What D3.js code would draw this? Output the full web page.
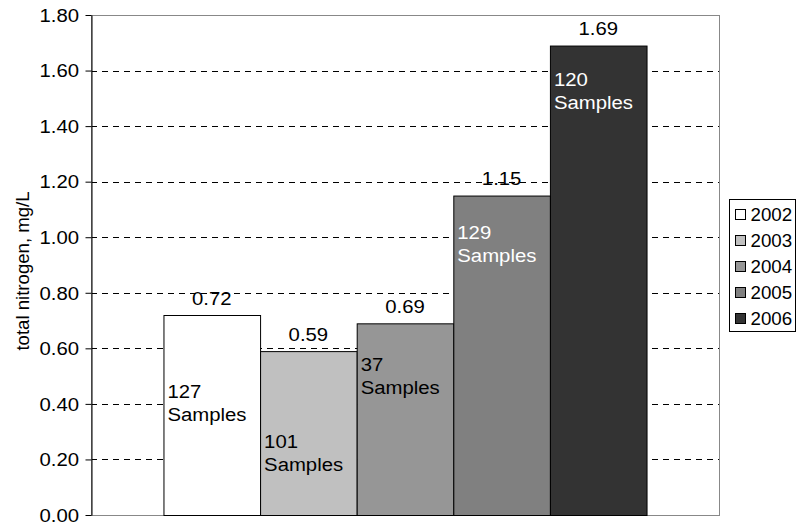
<!DOCTYPE html>
<html>
<head>
<meta charset="utf-8">
<script src="https://cdn.jsdelivr.net/npm/d3@7"></script>
<style>
  html, body { margin: 0; padding: 0; background: #fff; }
  svg { display: block; font-family: "Liberation Sans", Arial, sans-serif; }
</style>
</head>
<body>
<svg id="chart" width="796" height="525"></svg>
<script>
// ---- data ----
const years = ["2002", "2003", "2004", "2005", "2006"];
const values = [0.72, 0.59, 0.69, 1.15, 1.69];
const sampleCounts = [127, 101, 37, 129, 120];
const yTicks = [0, 0.2, 0.4, 0.6, 0.8, 1.0, 1.2, 1.4, 1.6, 1.8];
const yTitle = "total nitrogen, mg/L";

// ---- styles / layout ----
const colors = ["#ffffff", "#c0c0c0", "#969696", "#808080", "#333333"];
const labelColors = ["#000", "#000", "#000", "#fff", "#fff"];
// vertical level (in axis units) where each sample label's first line sits
const sampleLabelLevel = [0.443, 0.264, 0.54, 1.015, 1.566];
const FS = 18;
const SX = 1.13; // horizontal stretch of the text glyphs
const plot = { left: 91, right: 719, top: 15, bottom: 515 };

const svg = d3.select("#chart");

// place a text with horizontal stretch around its anchor point
function place(sel, fx, fy, sx = SX) {
  sel.attr("transform", (d, i) => `translate(${fx(d, i)},${fy(d, i)}) scale(${sx},1)`)
     .attr("x", 0).attr("y", 0);
}

const y = d3.scaleLinear().domain([0, 1.8]).range([plot.bottom, plot.top]);
const gap = 1.5; // gap width relative to bar
const barW = (plot.right - plot.left) / (years.length + gap);
const groupLeft = plot.left + gap * barW / 2;
const x = d3.scaleBand().domain(years)
  .range([groupLeft, groupLeft + barW * years.length]).padding(0);

// gridlines
svg.append("g").selectAll("line")
  .data(yTicks.filter(t => t > 0 && t < 1.8))
  .join("line")
  .attr("x1", plot.left).attr("x2", plot.right)
  .attr("y1", d => Math.round(y(d)) + 0.5).attr("y2", d => Math.round(y(d)) + 0.5)
  .attr("stroke", "#000").attr("stroke-width", 1)
  .attr("stroke-dasharray", "6,5");

// plot border (grey)
svg.append("rect")
  .attr("x", plot.left + 0.5).attr("y", plot.top + 0.5)
  .attr("width", plot.right - plot.left).attr("height", plot.bottom - plot.top)
  .attr("fill", "none").attr("stroke", "#888").attr("stroke-width", 1);

// bars
const data = years.map((yr, i) => ({ yr, v: values[i], n: sampleCounts[i], i }));
svg.append("g").selectAll("rect")
  .data(data).join("rect")
  .attr("x", d => x(d.yr) + 0.5)
  .attr("y", d => y(d.v) + 0.5)
  .attr("width", x.bandwidth())
  .attr("height", d => y(0) - y(d.v))
  .attr("fill", d => colors[d.i])
  .attr("stroke", "#000").attr("stroke-width", 1);

// y axis
const yAxis = d3.axisLeft(y).tickValues(yTicks).tickFormat(d3.format(".2f"))
  .tickSize(6).tickSizeOuter(0).tickPadding(6);
const ga = svg.append("g").attr("transform", `translate(${plot.left + 0.5},0)`).call(yAxis);
ga.select(".domain").attr("stroke", "#000");
ga.selectAll(".tick line").attr("stroke", "#000");
ga.selectAll(".tick text").attr("font-size", FS).attr("fill", "#000")
  .attr("font-family", "Liberation Sans, Arial, sans-serif")
  .attr("dy", null)
  .attr("transform", `translate(-12.5,6.3) scale(${SX},1)`).attr("x", 0);

// y title
svg.append("text")
  .attr("transform", `translate(28.5,271) rotate(-90)`)
  .attr("text-anchor", "middle")
  .attr("font-size", 18.6).attr("fill", "#000")
  .text(yTitle);

// value labels
svg.append("g").selectAll("text")
  .data(data).join("text")
  .call(place, d => x(d.yr) + x.bandwidth() / 2, d => y(d.v) - 10.5)
  .attr("text-anchor", "middle")
  .attr("font-size", FS).attr("fill", "#000")
  .text(d => d3.format(".2f")(d.v));

// sample labels
const sl = svg.append("g").selectAll("text")
  .data(data).join("text")
  .call(place, d => x(d.yr) + 4, d => y(sampleLabelLevel[d.i]))
  .attr("font-size", FS).attr("fill", d => labelColors[d.i]);
sl.append("tspan").attr("x", 0).attr("dy", "0.35em").text(d => d.n);
sl.append("tspan").attr("x", 0).attr("dy", 23).text("Samples");

// legend
const lg = svg.append("g");
lg.append("rect").attr("x", 729.5).attr("y", 199.5).attr("width", 66).attr("height", 132)
  .attr("fill", "#fff").attr("stroke", "#000");
const rows = lg.selectAll("g").data(data).join("g")
  .attr("transform", d => `translate(0,${215 + d.i * 26})`);
rows.append("rect").attr("x", 735.5).attr("y", -5.5).attr("width", 10).attr("height", 10)
  .attr("fill", d => colors[d.i]).attr("stroke", "#000");
rows.append("text")
  .call(place, () => 750.5, () => 6.3, 1.04)
  .attr("font-size", FS).attr("fill", "#000").text(d => d.yr);
</script>
</body>
</html>
